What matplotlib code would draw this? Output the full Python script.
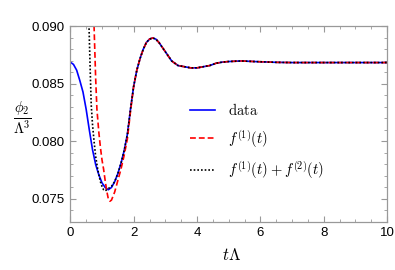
import numpy as np
import matplotlib
matplotlib.use("Agg")
import matplotlib.pyplot as plt
from matplotlib.ticker import MultipleLocator

plt.rcParams["mathtext.fontset"] = "cm"

# numerical solution ("data")
t_data = [0.0, 0.1, 0.2, 0.3, 0.4, 0.5, 0.6, 0.7, 0.8, 0.9, 1.0, 1.1, 1.2,
          1.3, 1.4, 1.5, 1.6, 1.7, 1.8, 1.9, 2.0, 2.1, 2.2, 2.3, 2.4, 2.5,
          2.6, 2.7, 2.8, 3.0, 3.2, 3.4, 3.6, 3.8, 4.0, 4.2, 4.4, 4.6, 4.8,
          5.0, 5.4, 5.8, 6.5, 7.0, 8.0, 10.0]
phi_data = [0.0869, 0.0867, 0.0862, 0.0853, 0.0843, 0.0828, 0.0810, 0.0793,
            0.0780, 0.0771, 0.0764, 0.0760, 0.0758, 0.0760, 0.0765, 0.0772,
            0.0781, 0.0792, 0.0806, 0.0828, 0.0848, 0.0862, 0.0872, 0.0880,
            0.0886, 0.0889, 0.0890, 0.0889, 0.0886, 0.0878, 0.0870, 0.0866,
            0.0865, 0.0864, 0.0864, 0.0865, 0.0866, 0.0868, 0.0869, 0.08695,
            0.0870, 0.08695, 0.08688, 0.08686, 0.08686, 0.08686]

# first order f^(1)(t)
t_f1 = [0.72, 0.75, 0.8, 0.84, 0.9, 0.95, 1.0, 1.05, 1.1, 1.15, 1.2, 1.25,
        1.3, 1.4, 1.5, 1.6, 1.7, 1.8, 1.9, 2.0, 2.1, 2.2, 2.3, 2.4, 2.5,
        2.6, 2.7, 2.8, 3.0, 3.2, 3.4, 3.6, 3.8, 4.0, 4.2, 4.4, 4.6, 4.8,
        5.0, 5.4, 5.8, 6.5, 7.0, 8.0, 10.0]
phi_f1 = [0.0925, 0.0900, 0.0855, 0.0828, 0.0808, 0.0795, 0.0784, 0.0776,
          0.0766, 0.0757, 0.0750, 0.0748, 0.0749, 0.0756, 0.0766, 0.0776,
          0.0788, 0.0802, 0.0826, 0.0848, 0.0862, 0.0872, 0.0880, 0.0886,
          0.0889, 0.0890, 0.0889, 0.0886, 0.0878, 0.0870, 0.0866, 0.0865,
          0.0864, 0.0864, 0.0865, 0.0866, 0.0868, 0.0869, 0.08695, 0.0870,
          0.08695, 0.08688, 0.08686, 0.08686, 0.08686]

# second order f^(1)(t) + f^(2)(t)
t_f12 = [0.56, 0.59, 0.63, 0.66, 0.7, 0.75, 0.8, 0.87, 0.95, 1.0, 1.05, 1.1,
         1.15, 1.2, 1.3, 1.4, 1.5, 1.6, 1.7, 1.8, 1.9, 2.0, 2.1, 2.2, 2.3,
         2.4, 2.5, 2.6, 2.7, 2.8, 3.0, 3.2, 3.4, 3.6, 3.8, 4.0, 4.2, 4.4,
         4.6, 4.8, 5.0, 5.4, 5.8, 6.5, 7.0, 8.0, 10.0]
phi_f12 = [0.0925, 0.0900, 0.0860, 0.0832, 0.0815, 0.0800, 0.0787, 0.0775,
           0.0765, 0.0761, 0.0758, 0.0757, 0.0758, 0.0759, 0.0761, 0.0765,
           0.0772, 0.0781, 0.0792, 0.0806, 0.0828, 0.0848, 0.0862, 0.0872,
           0.0880, 0.0886, 0.0889, 0.0890, 0.0889, 0.0886, 0.0878, 0.0870,
           0.0866, 0.0865, 0.0864, 0.0864, 0.0865, 0.0866, 0.0868, 0.0869,
           0.08695, 0.0870, 0.08695, 0.08688, 0.08686, 0.08686, 0.08686]

fig = plt.figure(figsize=(3.95, 2.7), dpi=100)
ax = fig.add_axes([0.178, 0.178, 0.802, 0.724])

ax.plot(t_data, phi_data, color="#0000ff", lw=1.2, label=r"$\mathrm{data}$")
ax.plot(t_f1, phi_f1, color="#ff0000", lw=1.2, ls=(0, (3.5, 1.8)),
        label=r"$f^{(1)}(t)$")
ax.plot(t_f12, phi_f12, color="black", lw=1.2, ls=(0, (1, 1.2)),
        label=r"$f^{(1)}(t)+f^{(2)}(t)$")

ax.set_xlim(0, 10)
ax.set_ylim(0.073, 0.090)
ax.xaxis.set_major_locator(MultipleLocator(2))
ax.xaxis.set_minor_locator(MultipleLocator(0.5))
ax.yaxis.set_major_locator(MultipleLocator(0.005))
ax.yaxis.set_minor_locator(MultipleLocator(0.001))
ax.yaxis.set_major_formatter(matplotlib.ticker.FormatStrFormatter("%.3f"))

frame = "#999999"
for s in ax.spines.values():
    s.set_color(frame)
    s.set_linewidth(0.9)
ax.tick_params(which="both", direction="in", top=True, right=True,
               color=frame, labelsize=9.5, pad=4)
ax.tick_params(which="major", length=4, width=0.8)
ax.tick_params(which="minor", length=2, width=0.6)
for lab in ax.get_xticklabels() + ax.get_yticklabels():
    lab.set_family("Liberation Sans")

fig.text(22 / 395, 1 - 118 / 270, r"$\frac{\phi_2}{\Lambda^3}$",
         fontsize=15, ha="center", va="center")
fig.text(232 / 395, 1 - 255 / 270, r"$t\Lambda$", fontsize=12,
         ha="center", va="center")

ax.legend(loc="upper left", bbox_to_anchor=(0.36, 0.645), frameon=False,
          fontsize=10.5, handlelength=1.7, handletextpad=0.9,
          labelspacing=0.68, borderaxespad=0)

fig.savefig("out.png", dpi=100)
